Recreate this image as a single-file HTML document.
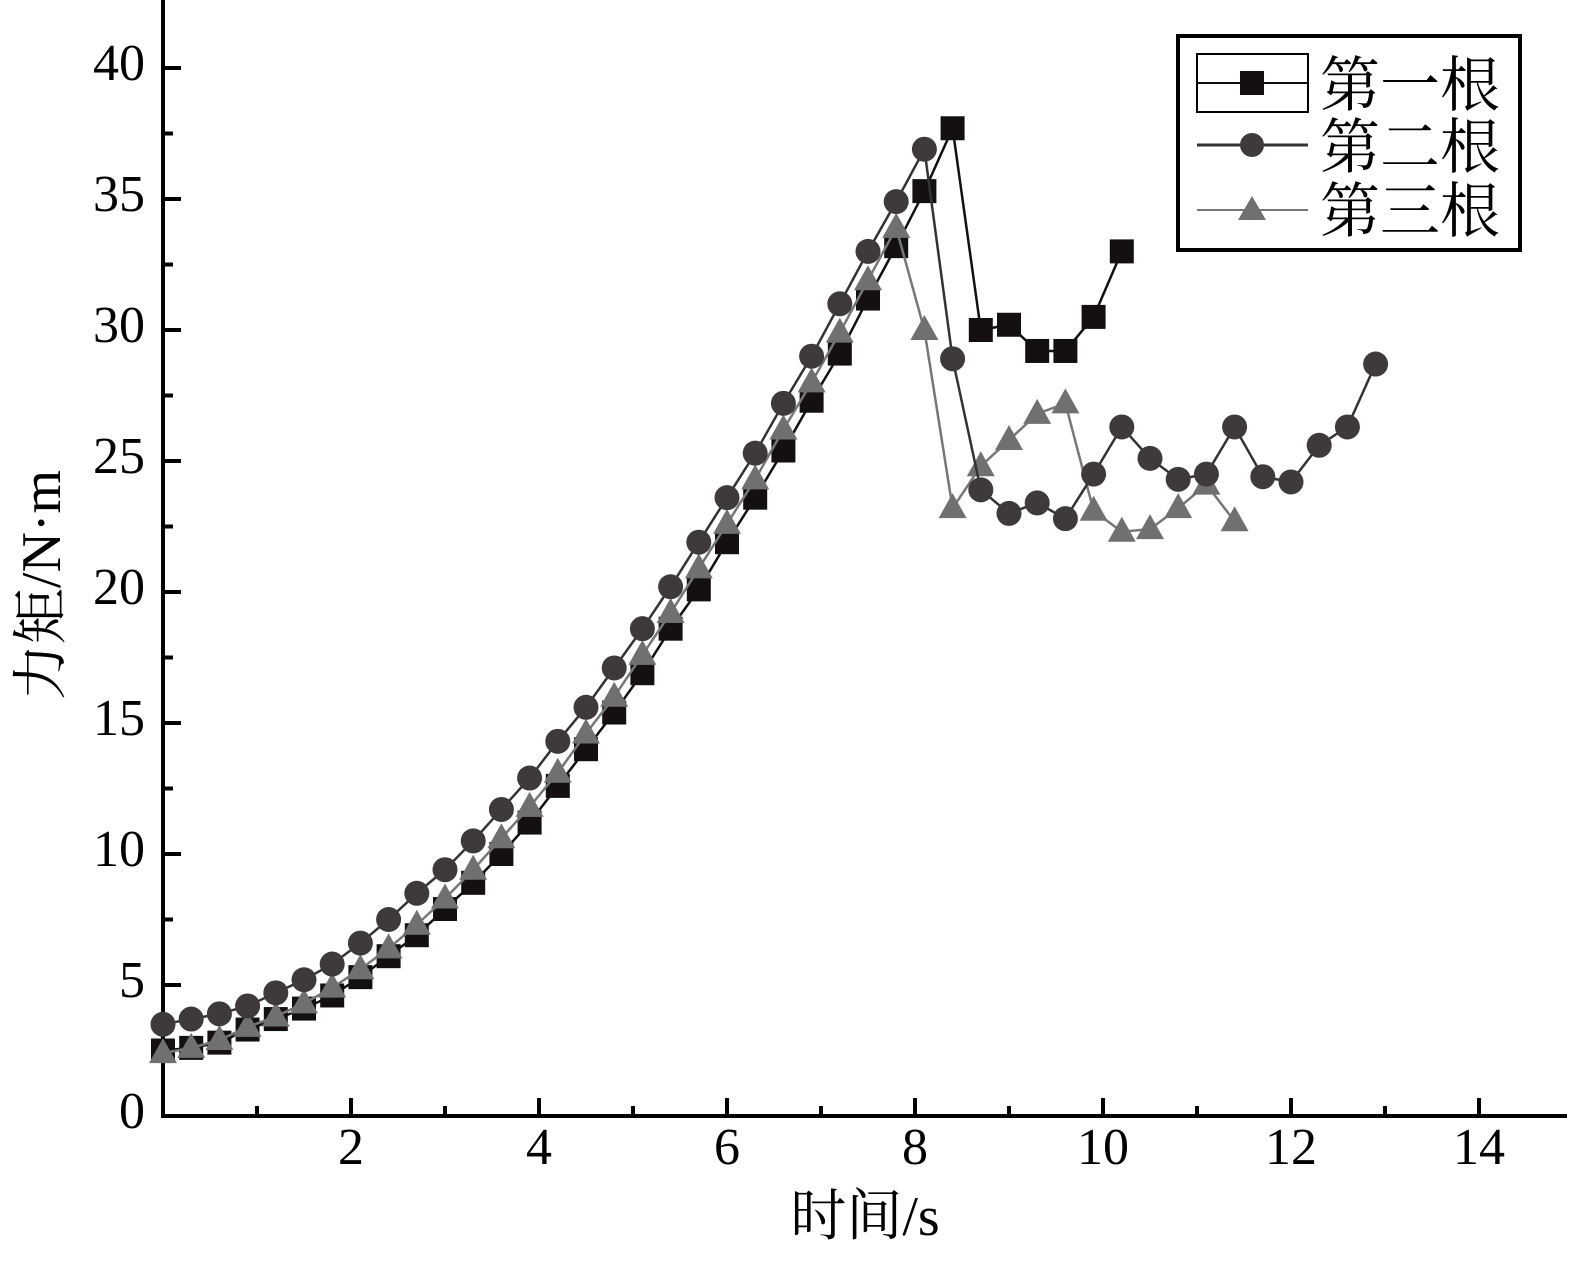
<!DOCTYPE html>
<html><head><meta charset="utf-8"><style>
html,body{margin:0;padding:0;background:#fff;}
svg text{font-family:"Liberation Serif","Noto Serif CJK SC",serif;}
</style></head><body>
<svg id="chart" width="1583" height="1265" viewBox="0 0 1583 1265" xmlns="http://www.w3.org/2000/svg">
<g id="axes"></g>
<g id="series"></g>
<g id="legend">
<rect x="1178" y="36" width="342" height="214" fill="#fff" stroke="#000" stroke-width="4"/>
<g>
<rect x="1197" y="54" width="111" height="58" fill="none" stroke="#000" stroke-width="2"/>
<line x1="1197" y1="83" x2="1308" y2="83" stroke="#111" stroke-width="2"/>
<rect x="1240" y="71" width="24" height="24" fill="#141010"/>
<text x="1320" y="106" font-size="60" fill="#000">第一根</text></g>
<g>
<line x1="1197" y1="145" x2="1308" y2="145" stroke="#333" stroke-width="3"/>
<circle cx="1252" cy="145" r="12" fill="#3e3a3a"/>
<text x="1320" y="168" font-size="60" fill="#000">第二根</text></g>
<g>
<line x1="1197" y1="210" x2="1308" y2="210" stroke="#777" stroke-width="2"/>
<polygon points="1252,196 1266,220 1238,220" fill="#717070"/>
<text x="1320" y="232" font-size="60" fill="#000">第三根</text></g>
</g>
</svg>
<script>
const times1 = [0,0.3,0.6,0.9,1.2,1.5,1.8,2.1,2.4,2.7,3.0,3.3,3.6,3.9,4.2,4.5,4.8,5.1,5.4,5.7,6.0,6.3,6.6,6.9,7.2,7.5,7.8,8.1,8.4,8.7,9.0,9.3,9.6,9.9,10.2];
const values1 = [2.5,2.6,2.8,3.3,3.7,4.1,4.6,5.3,6.1,6.9,7.9,8.9,10.0,11.2,12.6,14.0,15.4,16.9,18.6,20.1,21.9,23.6,25.4,27.3,29.1,31.2,33.2,35.3,37.7,30.0,30.2,29.2,29.2,30.5,33.0];
const times2 = [0,0.3,0.6,0.9,1.2,1.5,1.8,2.1,2.4,2.7,3.0,3.3,3.6,3.9,4.2,4.5,4.8,5.1,5.4,5.7,6.0,6.3,6.6,6.9,7.2,7.5,7.8,8.1,8.4,8.7,9.0,9.3,9.6,9.9,10.2,10.5,10.8,11.1,11.4,11.7,12.0,12.3,12.6,12.9];
const values2 = [3.5,3.7,3.9,4.2,4.7,5.2,5.8,6.6,7.5,8.5,9.4,10.5,11.7,12.9,14.3,15.6,17.1,18.6,20.2,21.9,23.6,25.3,27.2,29.0,31.0,33.0,34.9,36.9,28.9,23.9,23.0,23.4,22.8,24.5,26.3,25.1,24.3,24.5,26.3,24.4,24.2,25.6,26.3,28.7];
const times3 = [0,0.3,0.6,0.9,1.2,1.5,1.8,2.1,2.4,2.7,3.0,3.3,3.6,3.9,4.2,4.5,4.8,5.1,5.4,5.7,6.0,6.3,6.6,6.9,7.2,7.5,7.8,8.1,8.4,8.7,9.0,9.3,9.6,9.9,10.2,10.5,10.8,11.1,11.4];
const values3 = [2.4,2.6,2.9,3.4,3.8,4.3,4.9,5.6,6.4,7.3,8.3,9.4,10.6,11.8,13.1,14.6,16.0,17.6,19.2,20.9,22.6,24.3,26.2,28.0,29.9,31.9,33.9,30.0,23.2,24.8,25.8,26.8,27.2,23.1,22.3,22.4,23.2,24.1,22.7];
const xTickLabels = ["2","4","6","8","10","12","14"];
const yTickLabels = ["0","5","10","15","20","25","30","35","40"];

const NS="http://www.w3.org/2000/svg";
const X0=163, Y0=1116, XS=94, YS=26.2;
const sx=t=>X0+t*XS, sy=v=>Y0-v*YS;
function mk(tag,attrs,parent){const e=document.createElementNS(NS,tag);for(const k in attrs)e.setAttribute(k,attrs[k]);parent.appendChild(e);return e;}
const axes=document.getElementById('axes');
let e=mk('line',{x1:X0,y1:0,x2:X0,y2:Y0+2,stroke:'#000','stroke-width':4},axes);


e=mk('line',{x1:X0-2,y1:Y0,x2:1567,y2:Y0,stroke:'#000','stroke-width':4},axes);


for(let t=1;t<=14;t++){
  const maj=t%2===0;
  e=mk('line',{x1:sx(t),y1:Y0,x2:sx(t),y2:Y0-(maj?18:10),stroke:'#000','stroke-width':4},axes);
  
  
}
xTickLabels.forEach(l=>{
  e=mk('text',{x:sx(+l),y:Y0+48,'font-size':52,'text-anchor':'middle'},axes);e.textContent=l;
  
  
});
for(let i=1;i<=16;i++){
  const v=i*2.5,maj=i%2===0;
  e=mk('line',{x1:X0,y1:sy(v),x2:X0+(maj?18:10),y2:sy(v),stroke:'#000','stroke-width':4},axes);
  
  
}
yTickLabels.forEach(l=>{
  e=mk('text',{x:X0-18,y:sy(+l)+12,'font-size':52,'text-anchor':'end'},axes);e.textContent=l;
  
  
});
e=mk('text',{x:865,y:1235,'font-size':56,'text-anchor':'middle'},axes);e.textContent='时间/s';


e=mk('text',{x:0,y:0,'font-size':56,'text-anchor':'middle',transform:'translate(60,585) rotate(-90)'},axes);e.textContent='力矩/N·m';



const ser=document.getElementById('series');
function drawSeries(ts,vs,color,lineColor,shape,name){
  const g=mk('g',{},ser);
  
  
  const pl=mk('polyline',{points:ts.map((t,i)=>sx(t)+','+sy(vs[i])).join(' '),fill:'none',stroke:lineColor,'stroke-width':2.5},g);
  
  
  ts.forEach((t,i)=>{
    const x=sx(t),y=sy(vs[i]);let m;
    if(shape==='square') m=mk('rect',{x:x-12,y:y-12,width:24,height:24,fill:color},g);
    else if(shape==='circle') m=mk('circle',{cx:x,cy:y,r:12.5,fill:color},g);
    else m=mk('polygon',{points:`${x},${y-15} ${x+14},${y+10} ${x-14},${y+10}`,fill:color},g);
    
    
  });
}
drawSeries(times1,values1,'#141010','#111','square','series-first');
drawSeries(times3,values3,'#717070','#777','triangle','series-third');
drawSeries(times2,values2,'#3e3a3a','#333','circle','series-second');
</script>
</body></html>
